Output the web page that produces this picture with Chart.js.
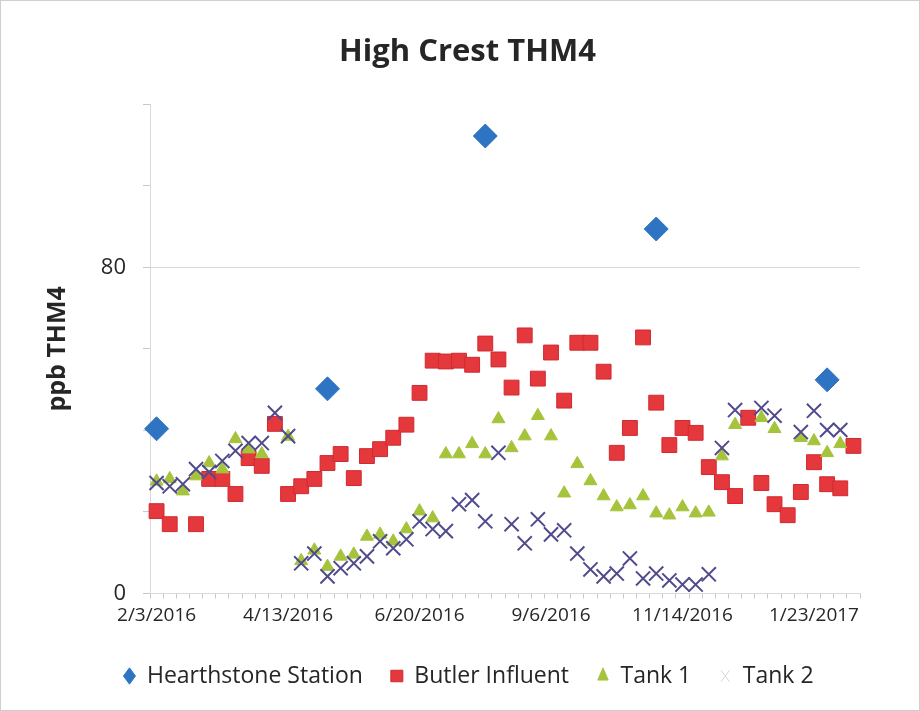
<!DOCTYPE html>
<html>
<head>
<meta charset="utf-8">
<title>High Crest THM4</title>
<script src="https://cdn.jsdelivr.net/npm/chart.js"></script>
<style>
  html, body { margin: 0; padding: 0; background: #fff; }
  #wrap { width: 918px; height: 709px; border: 1px solid #cfcfcf; }
</style>
</head>
<body>
<div id="wrap"><canvas id="thmChart" width="918" height="709"></canvas></div>
<script>
// sample dates (only every 10th one is printed on the axis)
const dates = [
  '2/3/2016','2/10/2016','2/17/2016','2/24/2016','3/2/2016','3/9/2016','3/16/2016','3/23/2016','3/30/2016','4/6/2016',
  '4/13/2016','4/20/2016','4/27/2016','5/4/2016','5/11/2016','5/18/2016','5/25/2016','6/1/2016','6/8/2016','6/13/2016',
  '6/20/2016','6/27/2016','7/5/2016','7/12/2016','7/19/2016','7/26/2016','8/2/2016','8/9/2016','8/16/2016','8/29/2016',
  '9/6/2016','9/13/2016','9/20/2016','9/27/2016','10/4/2016','10/11/2016','10/18/2016','10/25/2016','11/1/2016','11/7/2016',
  '11/14/2016','11/21/2016','11/28/2016','12/5/2016','12/12/2016','12/19/2016','12/27/2016','1/3/2017','1/9/2017','1/16/2017',
  '1/23/2017','1/30/2017','2/6/2017','2/13/2017'
];

const hearthstone = [
  40.4, null, null, null, null, null, null, null, null, null,
  null, null, null, 50.2, null, null, null, null, null, null,
  null, null, null, null, null, 112.2, null, null, null, null,
  null, null, null, null, null, null, null, null, 89.4, null,
  null, null, null, null, null, null, null, null, null, null,
  null, 52.4, null, null
];

const butler = [
  20.2, 17.0, null, 17.0, 28.1, 28.1, 24.4, 33.2, 31.3, 41.6,
  24.4, 26.3, 28.1, 32.0, 34.2, 28.3, 33.7, 35.4, 38.2, 41.4,
  49.2, 57.1, 56.9, 57.1, 56.1, 61.3, 57.4, 50.5, 63.3, 52.7,
  59.1, 47.3, 61.5, 61.5, 54.4, 34.5, 40.6, 62.8, 46.8, 36.4,
  40.6, 39.4, 31.0, 27.3, 23.9, 43.1, 27.1, 21.9, 19.2, 24.9,
  32.2, 26.8, 25.8, 36.2
];

const tank1 = [
  27.5, 28.1, 25.1, 28.8, 32.0, 30.5, 37.9, 35.4, 34.2, null,
  38.5, 8.0, 10.6, 6.6, 9.1, 9.6, 14.0, 14.5, 12.8, 15.8,
  20.2, 18.5, 34.2, 34.2, 36.7, 34.2, 42.8, 35.7, 38.6, 43.6,
  38.6, 24.6, 31.8, 27.6, 23.9, 21.2, 21.7, 23.9, 19.7, 19.2,
  21.2, 19.7, 19.9, 33.7, 41.4, null, 43.1, 40.4, null, 38.2,
  37.4, 34.5, 36.7, null
];

const tank2 = [
  27.1, 26.3, 26.8, 30.5, 29.8, 32.5, 35.0, 36.9, 36.9, 44.3,
  38.6, 7.4, 9.8, 4.2, 6.2, 7.4, 9.1, 12.8, 11.1, 13.3,
  17.7, 15.8, 15.3, 21.9, 22.9, 17.7, 34.5, 17.0, 12.3, 18.2,
  14.5, 15.5, 9.8, 5.9, 4.2, 4.9, 8.6, 3.7, 4.9, 3.2,
  2.2, 2.2, 4.7, 35.7, 45.0, null, 45.5, 43.6, null, 39.6,
  44.8, 40.1, 40.1, null
];

const yLabelled = [0, 80];
const fontFam = '"Open Sans", "Liberation Sans", sans-serif';
const txt = '#262626';

// nudge title and legend a little to the right, like the original
const boxShift = {
  id: 'boxShift',
  afterLayout(chart) {
    chart.legend.left += 19;
    chart.legend.right += 19;
    chart.titleBlock.left += 18;
    chart.titleBlock.right += 18;
  }
};

const ctx = document.getElementById('thmChart').getContext('2d');
const myChart = new Chart(ctx, {
  type: 'line',
  data: {
    labels: dates,
    datasets: [
      {
        label: 'Hearthstone Station', data: hearthstone, showLine: false, order: 4,
        pointStyle: 'rectRot', pointRadius: 12, pointHoverRadius: 12,
        backgroundColor: '#2E74C2', borderColor: '#2E74C2', pointBorderWidth: 1
      },
      {
        label: 'Butler Influent', data: butler, showLine: false, order: 3,
        pointStyle: 'rect', pointRadius: 10.5, pointHoverRadius: 10.5,
        backgroundColor: '#E5383C', borderColor: '#D02A30', pointBorderWidth: 1
      },
      {
        label: 'Tank 1', data: tank1, showLine: false, order: 2,
        pointStyle: 'triangle', pointRadius: 7.5, pointHoverRadius: 7.5,
        backgroundColor: '#A6C33C', borderColor: '#A6C33C', pointBorderWidth: 1
      },
      {
        label: 'Tank 2', data: tank2, showLine: false, order: 1,
        pointStyle: 'crossRot', pointRadius: 10, pointHoverRadius: 10,
        backgroundColor: '#4F4B8C', borderColor: '#4F4B8C', pointBorderWidth: 2
      }
    ]
  },
  plugins: [boxShift],
  options: {
    responsive: false,
    animation: false,
    layout: { padding: { left: 38, right: 59, top: 0, bottom: 12.5 } },
    plugins: {
      title: {
        display: true, text: 'High Crest THM4', color: txt,
        font: { family: fontFam, size: 31, weight: 'bold' },
        padding: { top: 33, bottom: 33 }
      },
      legend: {
        position: 'bottom',
        labels: {
          usePointStyle: true, pointStyleWidth: 12, boxHeight: 11.5, padding: 28, color: txt,
          font: { family: fontFam, size: 23 },
          sort: (a, b) => a.datasetIndex - b.datasetIndex,
          generateLabels(chart) {
            const items = Chart.defaults.plugins.legend.labels.generateLabels(chart);
            items.forEach(it => {
              if (it.datasetIndex === 3) { it.strokeStyle = '#d6d6d6'; it.lineWidth = 1; }
            });
            return items;
          }
        }
      },
      tooltip: { enabled: true }
    },
    scales: {
      x: {
        offset: true,
        grid: { offset: true, drawOnChartArea: false, drawTicks: true, tickLength: 5, tickColor: '#c8c8c8' },
        border: { color: '#d9d9d9' },
        ticks: {
          autoSkip: false, maxRotation: 0, minRotation: 0, color: txt, padding: 6,
          font: { family: fontFam, size: 19 },
          callback: function (v, i) { return i % 10 === 0 ? this.getLabelForValue(v) : ''; }
        },
        afterFit: s => { s.height = 43; }
      },
      y: {
        min: 0, max: 120,
        grid: {
          color: c => c.tick && c.tick.value === 80 ? '#d9d9d9' : 'rgba(0,0,0,0)',
          tickColor: '#c8c8c8', tickLength: 7
        },
        border: { color: '#d9d9d9' },
        ticks: {
          stepSize: 20, color: txt, padding: 17,
          font: { family: fontFam, size: 22 },
          callback: v => yLabelled.includes(v) ? v : ''
        },
        title: {
          display: true, text: 'ppb THM4', color: txt,
          font: { family: fontFam, size: 25, weight: 'bold' }
        },
        afterFit: s => { s.width = 111; }
      }
    }
  }
});
</script>
</body>
</html>
